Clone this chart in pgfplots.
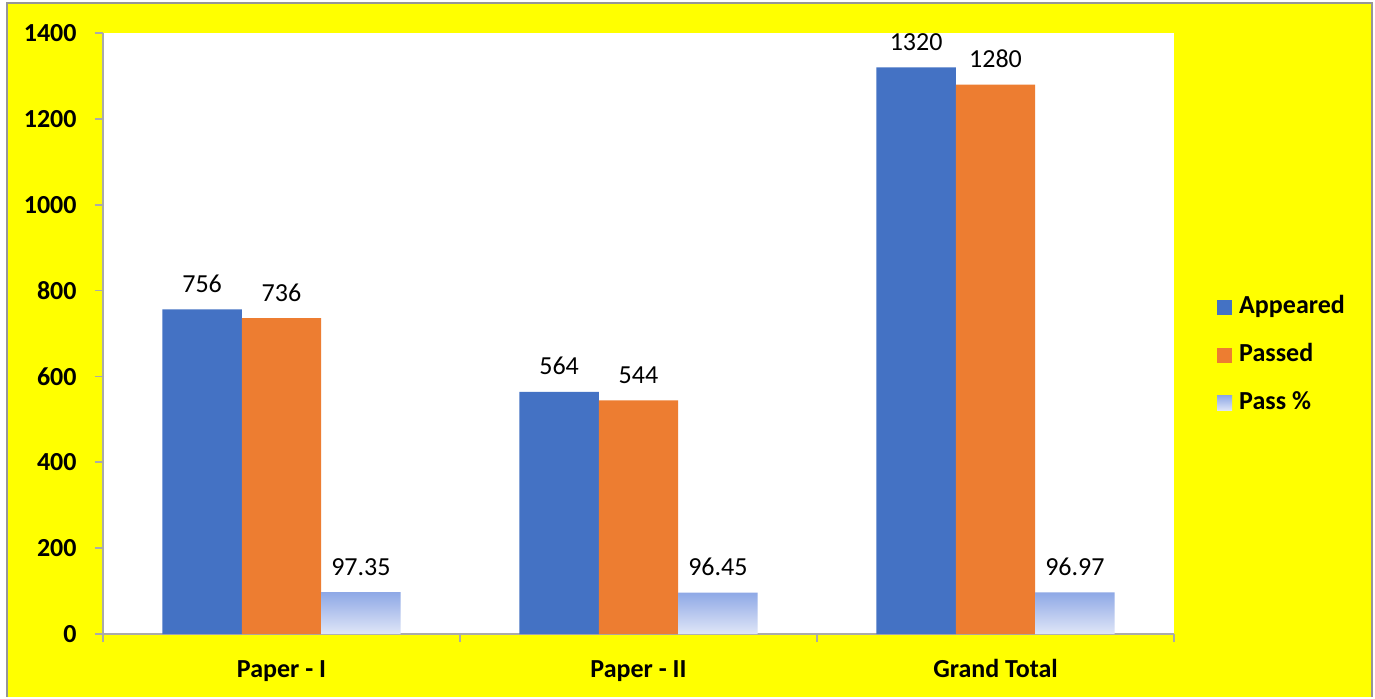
\documentclass[border=0pt]{standalone}
\usepackage{pgfplots}
\pgfplotsset{compat=1.18}
\usepackage{fontspec}
\setmainfont{Carlito}
\definecolor{app}{HTML}{4472C4}
\definecolor{pas}{HTML}{ED7D31}
\definecolor{pctop}{RGB}{142,168,230}
\definecolor{pcbot}{RGB}{224,230,247}
\definecolor{axgray}{RGB}{170,170,170}
\definecolor{bggray}{RGB}{150,150,150}
\definecolor{bgyellow}{RGB}{255,255,0}
\begin{document}
\begin{tikzpicture}
% page and background (origin = lower-left corner of the plot area; 1px = 0.5pt)
\fill[white] (-51.5pt,-31.5pt) rectangle (636pt,317pt);
\fill[bgyellow] (-48pt,-31.5pt) rectangle (634.5pt,315.5pt);
\draw[bggray, line width=1.2pt] (-48pt,-31.5pt) -- (-48pt,315.5pt) -- (634.5pt,315.5pt) -- (634.5pt,-31.5pt);
\begin{axis}[
  at={(0pt,0pt)}, anchor=south west,
  scale only axis, width=535.5pt, height=300.5pt,
  axis background/.style={fill=white},
  ybar=0pt, bar width=39.7pt,
  xmin=-0.5, xmax=2.5, ymin=0, ymax=1400,
  axis x line*=bottom, axis y line*=left,
  axis line style={axgray, line width=0.8pt, -},
  ytick={0,200,...,1400},
  xtick={0,1,2},
  xticklabels={Paper - I, Paper - II, Grand Total},
  minor xtick={-0.5,0.5,1.5,2.5},
  major x tick style={draw=none},
  minor x tick style={axgray, line width=0.8pt},
  y tick style={axgray, line width=0.8pt},
  tick align=outside, major tick length=4pt, minor tick length=4pt,
  /pgf/number format/assume math mode=true,
  /pgf/number format/1000 sep={},
  tick label style={font=\fontsize{13}{15}\selectfont\bfseries},
  yticklabel style={anchor=east, inner sep=0pt, xshift=-9pt},
  xticklabel style={anchor=base, inner sep=0pt, yshift=-17.5pt},
  nodes near coords,
  every node near coord/.append style={font=\fontsize{13}{15}\selectfont, anchor=base, inner sep=0pt, yshift=8.5pt, text=black},
  legend cell align=left,
  legend image code/.code={\fill[#1] (0pt,-3.75pt) rectangle (7.5pt,3.75pt);},
  legend style={draw=none, fill=none, at={(1.040,0.464)}, anchor=west,
    inner sep=0pt, row sep=12pt, column sep=3.5pt,
    font=\fontsize{13}{15}\selectfont\bfseries,
    nodes={inner sep=0pt, text height=9pt, text depth=3pt}},
]
\addplot[fill=app, draw=none] coordinates {(0,756) (1,564) (2,1320)};
\addplot[fill=pas, draw=none] coordinates {(0,736) (1,544) (2,1280)};
\addplot[top color=pctop, bottom color=pcbot, draw=none] coordinates {(0,97.35) (1,96.45) (2,96.97)};
\legend{Appeared, Passed, Pass \%}
\end{axis}
\end{tikzpicture}
\end{document}
